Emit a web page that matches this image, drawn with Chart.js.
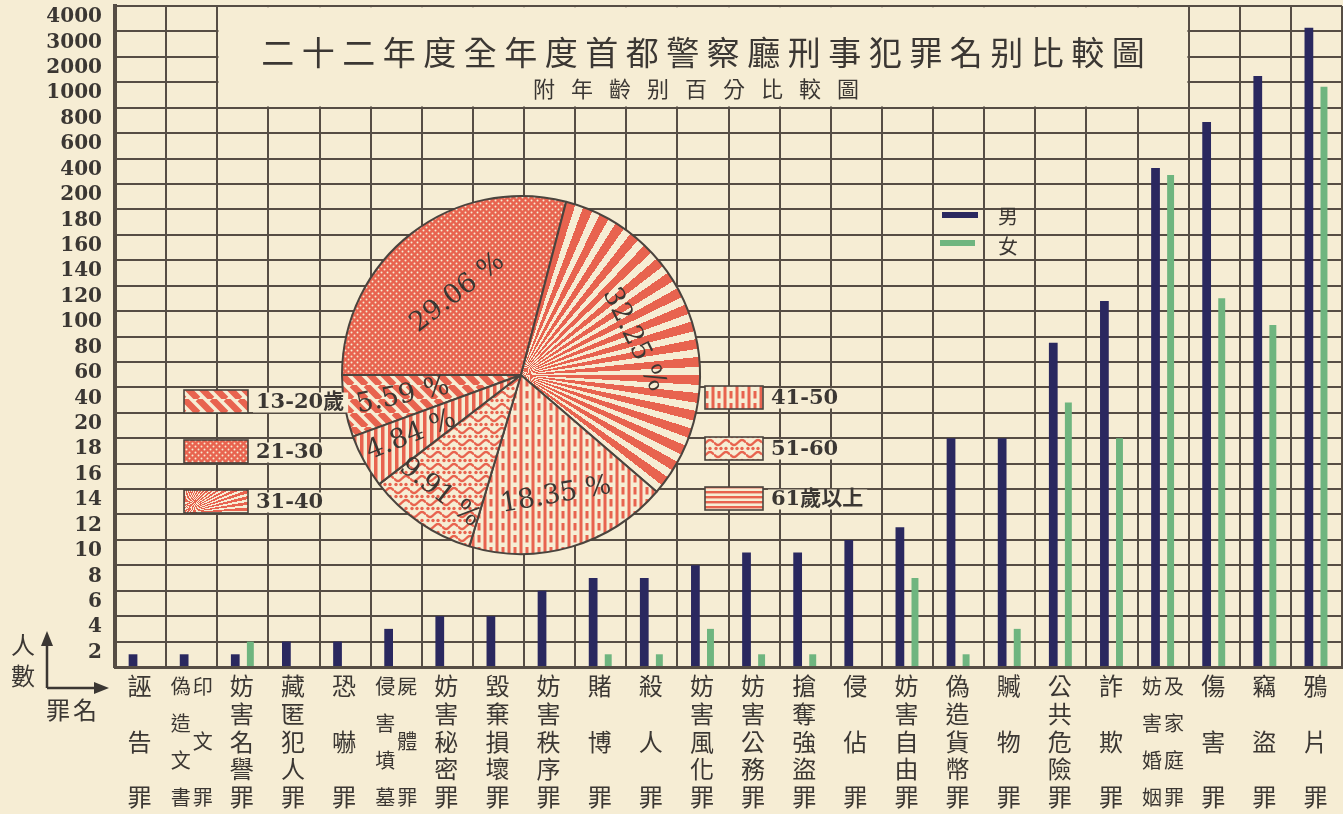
<!DOCTYPE html>
<html><head><meta charset="utf-8">
<script src="https://cdn.jsdelivr.net/npm/chart.js@4.4.1/dist/chart.umd.min.js"></script>
<style>
html,body{margin:0;padding:0;background:#f6edd4;}
#wrap{position:relative;width:1343px;height:814px;overflow:hidden;}
#bar{position:absolute;left:0;top:0;}
#pie{position:absolute;left:170px;top:175px;}
</style></head><body>
<div id="wrap"><canvas id="bar" width="1343" height="814"></canvas><canvas id="pie" width="702" height="400"></canvas></div>
<script>
// ---------- data ----------
const titleText = '二十二年度全年度首都警察廳刑事犯罪名别比較圖';
const subtitleText = '附年齡别百分比較圖';
const categories = ['誣告罪','偽造文書印文罪','妨害名譽罪','藏匿犯人罪','恐嚇罪','侵害墳墓屍體罪','妨害秘密罪','毀棄損壞罪','妨害秩序罪','賭博罪','殺人罪','妨害風化罪','妨害公務罪','搶奪強盜罪','侵佔罪','妨害自由罪','偽造貨幣罪','贓物罪','公共危險罪','詐欺罪','妨害婚姻及家庭罪','傷害罪','竊盜罪','鴉片罪'];
const seriesNames = ['男','女'];
const maleCounts   = [1,1,1,2,2,3,4,4,6,7,7,8,9,9,10,11,18,18,75,108,326,688,1250,3140];
const femaleCounts = [0,0,2,0,0,0,0,0,0,1,1,3,1,1,0,7,1,3,28,18,270,110,89,964];
const yTicks = [0,2,4,6,8,10,12,14,16,18,20,40,60,80,100,120,140,160,180,200,400,600,800,1000,2000,3000,4000];
const ageGroups = ['13-20歲','21-30','31-40','41-50','51-60','61歲以上'];
const agePercents = [5.59,29.06,32.25,18.35,9.91,4.84];
const axisWords = ['人數','罪名'];

// ---------- styles ----------
const PAPER='#f6edd4', GRID='#564d44', TXT='#3b3733', NAVY='#2a285f', GREEN='#6fb57f', RED='#e8634f', OUTLINE='#4a443e';
const CJK='"Noto Sans CJK TC","Noto Sans CJK SC",sans-serif';
const SERIF='"DejaVu Serif","Liberation Serif",serif';

// ---------- segmented (piecewise) value scale ----------
function rowOf(v){
  if (v <= yTicks[0]) return 0;
  for (let i=1;i<yTicks.length;i++){
    if (v <= yTicks[i]) return (i-1) + (v-yTicks[i-1])/(yTicks[i]-yTicks[i-1]);
  }
  return yTicks.length-1;
}
function valueOfRow(r){
  const i=Math.max(0,Math.min(yTicks.length-2,Math.floor(r)));
  return yTicks[i]+(r-i)*(yTicks[i+1]-yTicks[i]);
}
class SegmentScale extends Chart.LinearScale {
  buildTicks(){ this.start=this.min; this.end=this.max; return yTicks.map(v=>({value:v})); }
  getPixelForValue(v){ return (v===null||v===undefined)?NaN:this.getPixelForDecimal(rowOf(v)/(yTicks.length-1)); }
  getValueForPixel(p){ return valueOfRow(this.getDecimalForPixel(p)*(yTicks.length-1)); }
}
SegmentScale.id='segment';
SegmentScale.defaults=Chart.LinearScale.defaults;
Chart.register(SegmentScale);

// ---------- bar chart plugins ----------
const paper = {id:'paper', beforeDraw(c){const g=c.ctx; g.save(); g.fillStyle=PAPER; g.fillRect(0,0,c.width,c.height); g.restore();}};

const titleBox = {id:'titleBox', beforeDatasetsDraw(c){
  const g=c.ctx, x=c.scales.x, y=c.scales.y;
  const colW=(x.right-x.left)/categories.length;
  const l=x.left+2*colW+1.2, r=x.left+21*colW-1.2, t=c.chartArea.top+1.2, b=y.getPixelForValue(800)-1.2;
  g.save(); g.fillStyle=PAPER; g.fillRect(l,t,r-l,b-t);
  g.fillStyle=TXT; g.textAlign='center'; g.textBaseline='middle';
  g.font='33px '+CJK; g.letterSpacing='7.5px';
  g.fillText(titleText,(l+r)/2+3.7,52);
  g.font='22px '+CJK; g.letterSpacing='16px';
  g.fillText(subtitleText,(l+r)/2+1,89);
  g.restore();
}};

const barLegend = {id:'barLegend', afterDatasetsDraw(c){
  const g=c.ctx; g.save();
  const cols=[NAVY,GREEN];
  [[942,978,215],[940,975,243]].forEach((p,i)=>{
    g.strokeStyle=cols[i]; g.lineWidth=6; g.beginPath(); g.moveTo(p[0],p[2]); g.lineTo(p[1],p[2]); g.stroke();
    g.fillStyle=TXT; g.font='20px '+CJK; g.textAlign='center'; g.textBaseline='middle';
    g.fillText(c.data.datasets[i].label,1008,p[2]+1+i*2);
  });
  g.restore();
}};

const xLabels = {id:'xLabels', afterDraw(c){
  const g=c.ctx, x=c.scales.x; g.save();
  g.fillStyle=TXT; g.textAlign='center'; g.textBaseline='middle';
  const top=686, bot=797;
  function col(chars,cx){
    const n=chars.length;
    chars.forEach((ch,j)=>g.fillText(ch,cx,n===1?top:top+j*(bot-top)/(n-1)));
  }
  c.data.labels.forEach((name,i)=>{
    const cx=x.getPixelForValue(i); const chars=[...name];
    if (chars.length<=5){ g.font='24px '+CJK; col(chars,cx-1); }
    else { g.font='20px '+CJK; col(chars.slice(0,4),cx-11); col(chars.slice(4),cx+11); }
  });
  // axis arrows
  g.strokeStyle=TXT; g.lineWidth=2.5; g.beginPath(); g.moveTo(47,688); g.lineTo(47,640); g.moveTo(47,688); g.lineTo(101,688); g.stroke();
  g.fillStyle=TXT;
  g.beginPath(); g.moveTo(47,631); g.lineTo(41,646); g.lineTo(53,646); g.closePath(); g.fill();
  g.beginPath(); g.moveTo(109,688); g.lineTo(94,682); g.lineTo(94,694); g.closePath(); g.fill();
  g.font='24px '+CJK;
  const a=[...axisWords[0]], b=[...axisWords[1]];
  g.fillText(a[0],23,645); g.fillText(a[1],23,676);
  g.fillText(b[0],58,710); g.fillText(b[1],85,710);
  g.restore();
}};

new Chart(document.getElementById('bar'),{
  type:'bar',
  data:{labels:categories, datasets:[
    {label:seriesNames[0], data:maleCounts, backgroundColor:NAVY, barPercentage:0.58, categoryPercentage:0.59},
    {label:seriesNames[1], data:femaleCounts, backgroundColor:GREEN, barPercentage:0.46, categoryPercentage:0.59}
  ]},
  options:{
    responsive:false, animation:false, devicePixelRatio:1,
    layout:{padding:{top:6,right:1,left:0,bottom:0}},
    plugins:{legend:{display:false},tooltip:{enabled:false},title:{display:false}},
    scales:{
      x:{type:'category', grid:{offset:true,color:GRID,lineWidth:2,drawTicks:false}, border:{color:GRID,width:3},
         ticks:{display:false}, afterFit(s){s.height=147; s.paddingLeft=0; s.paddingRight=0;}},
      y:{type:'segment', min:0, max:4000, grid:{color:GRID,lineWidth:2,drawTicks:false}, border:{color:GRID,width:4},
         ticks:{autoSkip:false,padding:13,labelOffset:11,color:TXT,font:{family:SERIF,weight:'bold',size:20},
                callback:v=>v===0?'':String(v)},
         afterFit(s){s.width=115; s.paddingTop=0; s.paddingBottom=0;}}
    }
  },
  plugins:[paper,titleBox,barLegend,xLabels]
});

// ---------- pie patterns ----------
const pieCanvas=document.getElementById('pie');
const pctx=pieCanvas.getContext('2d');
function tile(w,h,draw){const cv=document.createElement('canvas');cv.width=w;cv.height=h;const g=cv.getContext('2d');g.fillStyle=PAPER;g.fillRect(0,0,w,h);g.fillStyle=RED;g.strokeStyle=RED;draw(g,w,h);return pctx.createPattern(cv,'repeat');}
const patDiag=tile(14,14,(g,w,h)=>{g.lineWidth=6.5;g.beginPath();for(let k=-1;k<=1;k++){g.moveTo(k*w,0);g.lineTo(k*w+w,h);}g.stroke();});
const patMesh=tile(6,6,(g)=>{g.fillRect(0,0,6,6);g.fillStyle=PAPER;g.beginPath();g.arc(1.5,1.5,1.0,0,7);g.fill();g.beginPath();g.arc(4.5,4.5,1.0,0,7);g.fill();});
const patDash=tile(12,12,(g)=>{g.fillRect(1.5,0,3,12);g.fillRect(7.5,0,3,7.5);});
const patWave=tile(16,12,(g)=>{g.lineWidth=2.4;g.beginPath();for(let i=0;i<=16;i++){const yy=3.5+2.5*Math.sin(i/16*2*Math.PI);i?g.lineTo(i,yy):g.moveTo(i,yy);}g.stroke();[2,7,12].forEach(px=>{g.beginPath();g.arc(px,9.5,1.7,0,7);g.fill();});});
const patVert=tile(7,7,(g)=>{g.fillRect(1,0,3.5,7);});
const patHorz=tile(6,5,(g)=>{g.fillRect(0,1,6,2.4);});
function rays(cx,cy,start,n){const gr=pctx.createConicGradient(start,cx,cy);for(let k=0;k<n;k++){const a=k/n,w=0.55/n;gr.addColorStop(a,RED);gr.addColorStop(a+w,RED);gr.addColorStop(a+w,PAPER);gr.addColorStop(Math.min(1,(k+1)/n-1e-6),PAPER);}return gr;}
const patRays=rays(pieCanvas.width/2,pieCanvas.height/2,0,62);
const slicePatterns=[patDiag,patMesh,patRays,patDash,patWave,patVert];

// ---------- pie plugins ----------
const labelFrac=[0.67,0.58,0.66,0.70,0.80,0.70];
const labelRot=[-12,-38,64,-10,38,-22];
const pieLabels={id:'pieLabels', afterDatasetsDraw(c){
  const g=c.ctx, meta=c.getDatasetMeta(0); g.save();
  g.fillStyle=TXT; g.textAlign='center'; g.textBaseline='middle'; g.font='27px '+SERIF;
  meta.data.forEach((arc,i)=>{
    const p=arc.getProps(['x','y','startAngle','endAngle','outerRadius']);
    const m=(p.startAngle+p.endAngle)/2, r=p.outerRadius*labelFrac[i];
    g.save(); g.translate(p.x+Math.cos(m)*r,p.y+Math.sin(m)*r); g.rotate(labelRot[i]*Math.PI/180);
    g.fillText(c.data.datasets[0].data[i].toFixed(2)+' %',0,0); g.restore();
  });
  g.restore();
}};
const pieLegend={id:'pieLegend', afterDraw(c){
  const g=c.ctx; g.save();
  const boxes=[[14,215,64,23],[14,265,64,23],[14,315,64,23],[535,211,58,23],[535,262,58,23],[535,312,58,23]];
  c.data.labels.forEach((lab,i)=>{
    const [bx,by,bw,bh]=boxes[i];
    let fill=slicePatterns[i];
    if(i===2) fill=rays(bx,by+bh,0,72);
    if(i===5) fill=patHorz;
    g.fillStyle=fill; g.fillRect(bx,by,bw,bh);
    g.strokeStyle=OUTLINE; g.lineWidth=1.6; g.strokeRect(bx,by,bw,bh);
    g.font='bold 21px '+SERIF+','+CJK; g.textBaseline='middle'; g.textAlign='left';
    const tx=bx+bw+8, ty=by+bh/2+1, tw=g.measureText(lab).width;
    g.fillStyle=PAPER; g.fillRect(tx-3,ty-10,tw+7,20);
    g.fillStyle=TXT; g.fillText(lab,tx,ty);
  });
  g.restore();
}};

new Chart(pieCanvas,{
  type:'pie',
  data:{labels:ageGroups, datasets:[{data:agePercents, backgroundColor:slicePatterns, borderColor:OUTLINE, borderWidth:2}]},
  options:{responsive:false, animation:false, devicePixelRatio:1, rotation:270-agePercents[0]*3.6, radius:179,
    layout:{padding:0}, plugins:{legend:{display:false},tooltip:{enabled:false}}},
  plugins:[pieLabels,pieLegend]
});
</script></body></html>
